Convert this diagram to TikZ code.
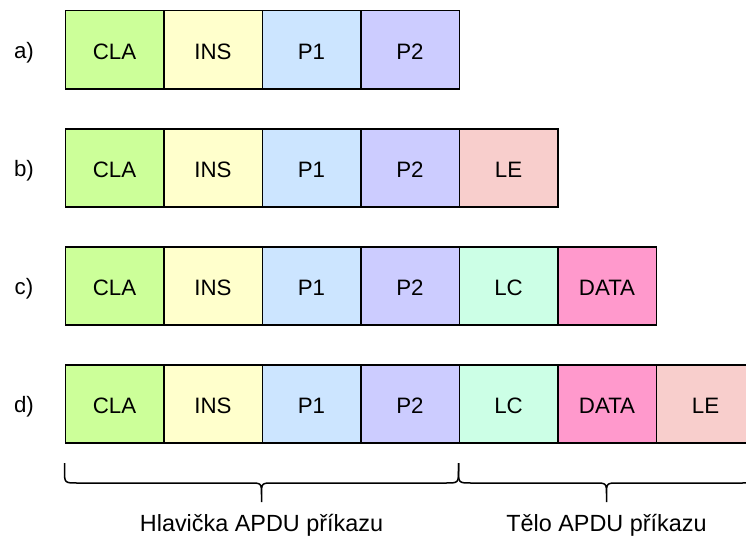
\documentclass[tikz,border=0pt]{standalone}
\usepackage{fontspec}
\setmainfont{Liberation Sans}

\definecolor{clafill}{HTML}{CCFF99}
\definecolor{insfill}{HTML}{FFFFCC}
\definecolor{ponefill}{HTML}{CCE5FF}
\definecolor{ptwofill}{HTML}{CCCCFF}
\definecolor{lefill}{HTML}{F8CECC}
\definecolor{lcfill}{HTML}{CCFFE6}
\definecolor{datafill}{HTML}{FF99CC}

% curly brace from x=#1 to x=#3 with its tip at x=#2
\newcommand\curlybrace[3]{%
  \draw[bracepath] (#1,463) -- (#1,470) .. controls (#1,483) .. (#1+13,483)
    -- (#2-12,483) .. controls (#2,483) .. (#2,495) -- (#2,502)
    (#2,495) .. controls (#2,483) .. (#2+12,483)
    -- (#3-13,483) .. controls (#3,483) .. (#3,470) -- (#3,463);}

% one row of fields: name, top y, list of text/colour pairs
\newcommand\fieldrow[3]{%
  \node[rowlabel] (#1lbl) at (24,#2+48.5) {#1)};
  \foreach \t/\f [count=\i from 0] in {#3}
    \node[field, fill=\f] (#1\i) at (64.5+98.5*\i,#2) {\t};}

\begin{document}
\begin{tikzpicture}[x=1pt,y=-1pt,
  field/.style={draw=black, line width=1.5pt, minimum width=98.5pt,
    minimum height=78pt, inner sep=0pt, anchor=north west,
    text height=19pt, text depth=0pt,
    font=\fontsize{22.3}{26}\selectfont},
  rowlabel/.style={anchor=base, inner sep=0pt, font=\fontsize{22.3}{26}\selectfont},
  caption/.style={anchor=base, inner sep=0pt, font=\fontsize{23.4}{28}\selectfont},
  bracepath/.style={draw=black, line width=1.5pt, line join=round}]
\clip (0,0) rectangle (746,535);

\fieldrow{a}{10}{CLA/clafill,INS/insfill,P1/ponefill,P2/ptwofill}
\fieldrow{b}{128}{CLA/clafill,INS/insfill,P1/ponefill,P2/ptwofill,LE/lefill}
\fieldrow{c}{246}{CLA/clafill,INS/insfill,P1/ponefill,P2/ptwofill,LC/lcfill,DATA/datafill}
\fieldrow{d}{364}{CLA/clafill,INS/insfill,P1/ponefill,P2/ptwofill,LC/lcfill,DATA/datafill,LE/lefill}

\curlybrace{64.5}{261.5}{458.5}
\curlybrace{458.5}{606.5}{754.5}

\node[caption] (head) at (261.5,531) {Hlavička APDU příkazu};
\node[caption] (body) at (606.5,531) {Tělo APDU příkazu};
\end{tikzpicture}
\end{document}
